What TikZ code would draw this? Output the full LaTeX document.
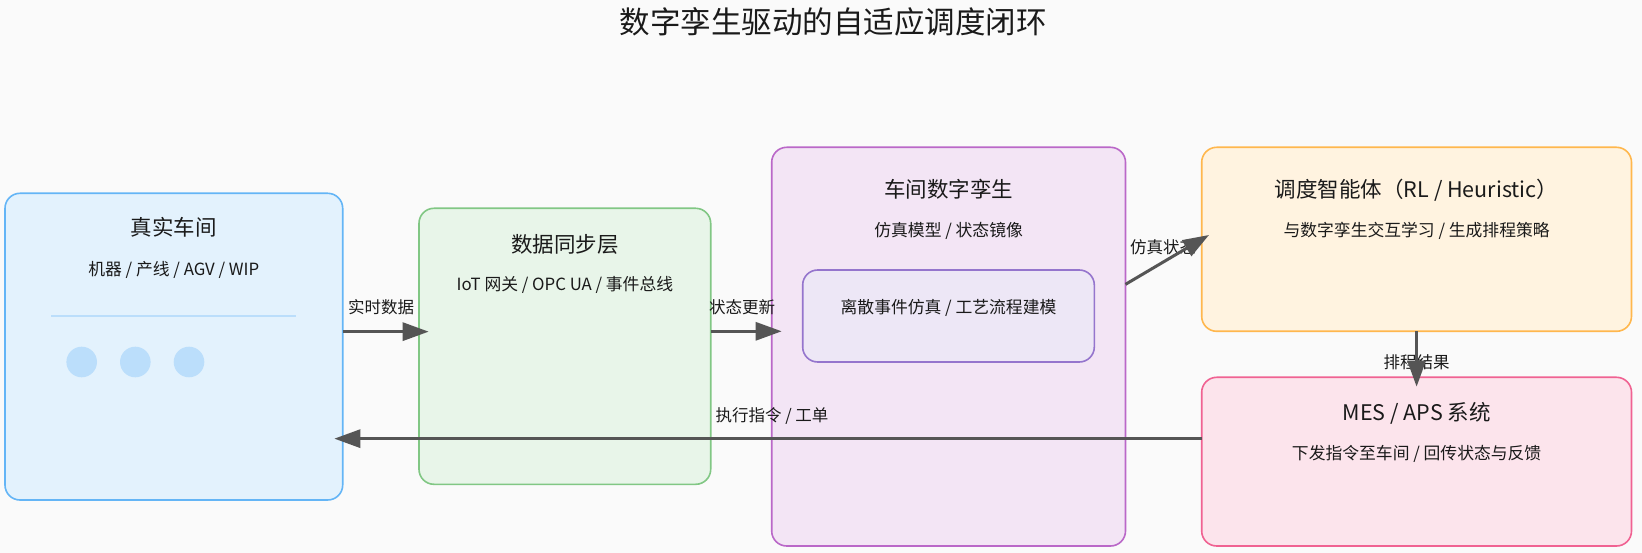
\documentclass[tikz,border=0pt]{standalone}
\usepackage{fontspec}
\setmainfont{Noto Sans CJK SC}
\usetikzlibrary{arrows.meta,calc}
\definecolor{bg}{HTML}{FAFAFA}
\definecolor{txt}{HTML}{1A1A1A}
\definecolor{arrc}{HTML}{555555}
\definecolor{bluef}{HTML}{E3F2FD}\definecolor{blued}{HTML}{64B5F6}\definecolor{bluel}{HTML}{BBDEFB}
\definecolor{greenf}{HTML}{E8F5E9}\definecolor{greend}{HTML}{81C784}
\definecolor{purf}{HTML}{F3E5F5}\definecolor{purd}{HTML}{BA68C8}
\definecolor{innf}{HTML}{EDE7F6}\definecolor{innd}{HTML}{9575CD}
\definecolor{orf}{HTML}{FFF3E0}\definecolor{ord}{HTML}{FFB74D}
\definecolor{pinf}{HTML}{FCE4EC}\definecolor{pind}{HTML}{F06292}
\begin{document}
\begin{tikzpicture}[x=1pt,y=-1pt,
  box/.style={rounded corners=15pt,line width=1.6pt,inner sep=0pt,outer sep=0pt,anchor=north west},
  ttl/.style={font=\fontsize{21.5}{21.5}\selectfont,text=txt,inner sep=0pt,text height=0.88em,text depth=0.12em},
  sub/.style={font=\fontsize{16.8}{16.8}\selectfont,text=txt,inner sep=0pt,text height=0.88em,text depth=0.12em},
  lbl/.style={font=\fontsize{16.5}{16.5}\selectfont,text=txt,inner sep=0pt,text height=0.88em,text depth=0.12em},
  arr/.style={draw=arrc,line width=3pt,-{Triangle[length=26pt,width=18pt]}},
  dot/.style={circle,fill=bluel,minimum size=30.6pt,inner sep=0pt}]
\useasboundingbox[fill=bg] (0,0) rectangle (1642,553);
\node[font=\fontsize{30.5}{30.5}\selectfont,text=txt,inner sep=0pt,text height=0.88em,text depth=0.12em] (title) at (833,29.5) {数字孪生驱动的自适应调度闭环};
% boxes
\node[box,draw=blued,fill=bluef,minimum width=337.7pt,minimum height=306.7pt] (real) at (5,193.3) {};
\node[box,draw=greend,fill=greenf,minimum width=291.7pt,minimum height=276pt] (sync) at (419,208.3) {};
\node[box,draw=purd,fill=purf,minimum width=353.8pt,minimum height=398.7pt] (twin) at (771.7,147.3) {};
\node[box,draw=innd,fill=innf,minimum width=291.6pt,minimum height=92pt] (inner) at (802.7,270) {};
\node[box,draw=ord,fill=orf,minimum width=429.8pt,minimum height=184pt] (agent) at (1201.7,147.3) {};
\node[box,draw=pind,fill=pinf,minimum width=429.8pt,minimum height=168.7pt] (mes) at (1201.7,377.3) {};
% box texts
\node[ttl] (realt) at (173.8,231.7) {真实车间};
\node[sub] (reals) at (173.8,271.7) {机器 / 产线 / AGV / WIP};
\coordinate (sepa) at (51,316);
\coordinate (sepb) at (296,316);
\draw[bluel,line width=1.6pt] (sepa) -- (sepb);
\node[dot] (d1) at (81.7,362) {};
\node[dot] (d2) at (135.3,362) {};
\node[dot] (d3) at (189,362) {};
\node[ttl] (synct) at (564.9,248.3) {数据同步层};
\node[sub] (syncs) at (564.9,286.7) {IoT 网关 / OPC UA / 事件总线};
\node[ttl] (twint) at (948.6,193.3) {车间数字孪生};
\node[sub] (twins) at (948.6,232.7) {仿真模型 / 状态镜像};
\node[sub] (innert) at (948.5,310) {离散事件仿真 / 工艺流程建模};
\node[ttl] (agentt) at (1416.6,193.3) {调度智能体（RL / Heuristic）};
\node[sub] (agents) at (1416.6,232.7) {与数字孪生交互学习 / 生成排程策略};
\node[ttl] (mest) at (1416.6,416.7) {MES / APS 系统};
\node[sub] (mess) at (1416.6,456) {下发指令至车间 / 回传状态与反馈};
% labels
\node[lbl] (l1) at (381,310) {实时数据};
\node[lbl] (l2) at (742,310) {状态更新};
\node[lbl] (l3) at (1163,250) {仿真状态};
\node[lbl] (l4) at (1416.6,364.3) {排程结果};
\node[lbl] (l5) at (772,418) {执行指令 / 工单};
% arrows
\draw[arr] ($(real.east)+(0,-15)$) -- ($(real.east -| sync.west)+(9.7,-15)$);
\draw[arr] ($(sync.east)+(0,-15)$) -- ($(sync.east -| twin.west)+(10,-15)$);
\draw[arr] ($(twin.east)+(0,-62.3)$) -- ($(agent.west)+(7.3,-4.3)$);
\draw[arr] (agent.south) -- ($(mes.north)+(0,9.4)$);
\draw[arr] ($(mes.west)+(0,-23)$) -- ($(mes.west -| real.east)+(-8.4,-23)$);
\end{tikzpicture}
\end{document}
